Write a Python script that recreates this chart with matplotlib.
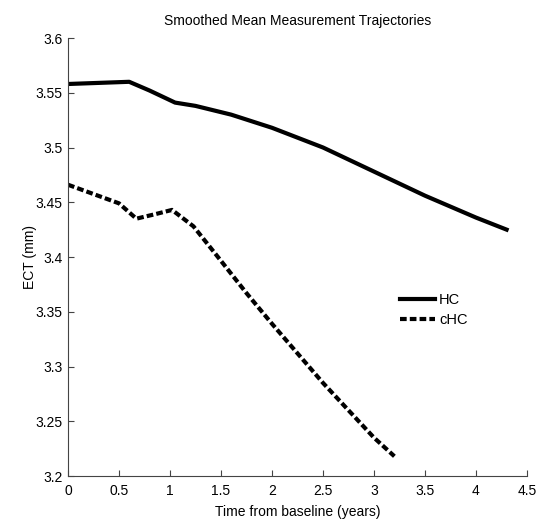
import matplotlib
matplotlib.use("Agg")
import matplotlib.pyplot as plt

# smoothed mean trajectories
hc_years = [0.0, 0.3, 0.6, 0.8, 1.05, 1.25, 1.6, 2.0, 2.5, 3.0, 3.5, 4.0, 4.3]
hc_ect = [3.558, 3.559, 3.560, 3.552, 3.541, 3.538, 3.530, 3.518, 3.500, 3.478, 3.456, 3.436, 3.425]

chc_years = [0.0, 0.5, 0.67, 0.85, 1.02, 1.23, 1.47, 1.75, 2.0, 2.5, 3.0, 3.2]
chc_ect = [3.466, 3.449, 3.435, 3.439, 3.443, 3.428, 3.400, 3.367, 3.339, 3.285, 3.235, 3.218]

xticks = [0, 0.5, 1, 1.5, 2, 2.5, 3, 3.5, 4, 4.5]
xticklabels = ['0', '0.5', '1', '1.5', '2', '2.5', '3', '3.5', '4', '4.5']
yticks = [3.2, 3.25, 3.3, 3.35, 3.4, 3.45, 3.5, 3.55, 3.6]
yticklabels = ['3.2', '3.25', '3.3', '3.35', '3.4', '3.45', '3.5', '3.55', '3.6']

plt.rcParams['font.family'] = ['Liberation Sans', 'DejaVu Sans']
plt.rcParams['font.size'] = 10

fig = plt.figure(figsize=(5.39, 5.21), dpi=100)
ax = fig.add_axes([68 / 539, 1 - 476 / 521, (527 - 68) / 539, (476 - 38) / 521])

ax.plot(hc_years, hc_ect, color='black', lw=3, label='HC')
ax.plot(chc_years, chc_ect, color='black', lw=3, linestyle=(0, (1.6, 0.75)), label='cHC')

ax.set_xlim(0, 4.5)
ax.set_ylim(3.2, 3.6)
ax.set_xticks(xticks)
ax.set_xticklabels(xticklabels)
ax.set_yticks(yticks)
ax.set_yticklabels(yticklabels)

for side in ['top', 'right']:
    ax.spines[side].set_visible(False)
for side in ['left', 'bottom']:
    ax.spines[side].set_color('#444444')
    ax.spines[side].set_linewidth(0.8)
ax.tick_params(direction='in', length=4, width=0.8, color='#444444')
ax.tick_params(axis='x', pad=6)
ax.tick_params(axis='y', pad=4)

ax.set_title('Smoothed Mean Measurement Trajectories', fontsize=10, pad=9)
ax.set_xlabel('Time from baseline (years)', labelpad=5)
ax.set_ylabel('ECT (mm)', labelpad=-1)

ax.legend(loc='center left', bbox_to_anchor=(0.723, 0.379), frameon=False,
          borderpad=0, borderaxespad=0,
          handlelength=2.4, handletextpad=0.3, labelspacing=0.45, fontsize=10.5)

fig.savefig('out.png', dpi=100)
